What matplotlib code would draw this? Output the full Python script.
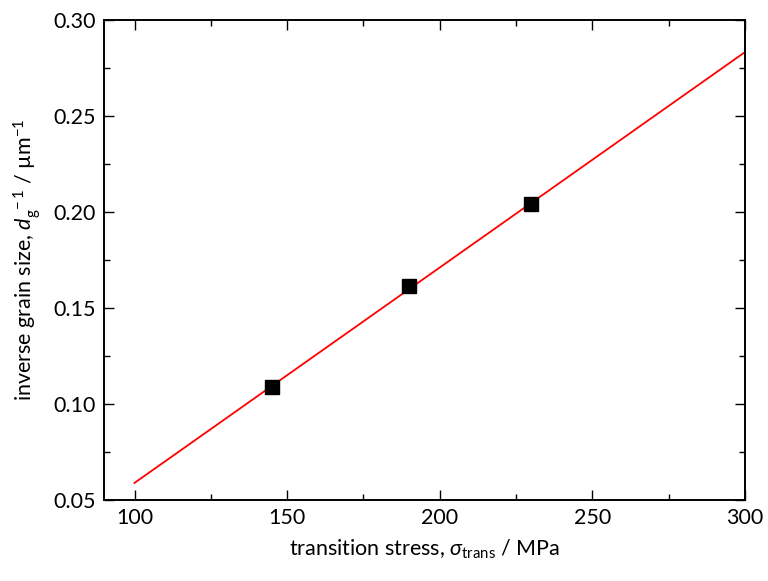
import matplotlib
matplotlib.use("Agg")
import matplotlib.pyplot as plt
from matplotlib.ticker import MultipleLocator

# data
stress = [145, 190, 230]
inv_grain = [0.1089, 0.1612, 0.2042]
fit_x = [100, 300]
fit_y = [0.0589, 0.2833]

plt.rcParams['font.family'] = ['Lato', 'DejaVu Sans']
plt.rcParams['mathtext.fontset'] = 'custom'
plt.rcParams['mathtext.rm'] = 'Lato'
plt.rcParams['mathtext.it'] = 'Lato:italic'
plt.rcParams['mathtext.bf'] = 'Lato:bold'

fig = plt.figure(figsize=(7.68, 5.81), dpi=100)
ax = fig.add_axes([104/768, 1-500/581, (745-104)/768, (500-20)/581])

ax.plot(fit_x, fit_y, color='#ff0000', lw=1.3, zorder=2)
ax.plot(stress, inv_grain, ls='none', marker='s', ms=10.5, color='black', zorder=3)

ax.set_xlim(90, 300)
ax.set_ylim(0.05, 0.30)
ax.xaxis.set_major_locator(MultipleLocator(50))
ax.xaxis.set_minor_locator(MultipleLocator(25))
ax.yaxis.set_major_locator(MultipleLocator(0.05))
ax.yaxis.set_minor_locator(MultipleLocator(0.025))
ax.yaxis.set_major_formatter(matplotlib.ticker.FormatStrFormatter('%.2f'))

ax.tick_params(which='both', direction='in', top=True, right=True, width=1.0, labelsize=15.5)
ax.tick_params(which='major', length=7, pad=6)
ax.tick_params(which='minor', length=4)
for s in ax.spines.values():
    s.set_linewidth(1.4)

ax.set_xlabel(r'transition stress, $\sigma_{\mathrm{trans}}$ / MPa', fontsize=15.5, labelpad=7)
ax.set_ylabel(r'inverse grain size, $d_{\mathrm{g}}^{\ -1}$ / µm$^{-1}$', fontsize=15.5, labelpad=7)

fig.savefig('out.png', dpi=100)
